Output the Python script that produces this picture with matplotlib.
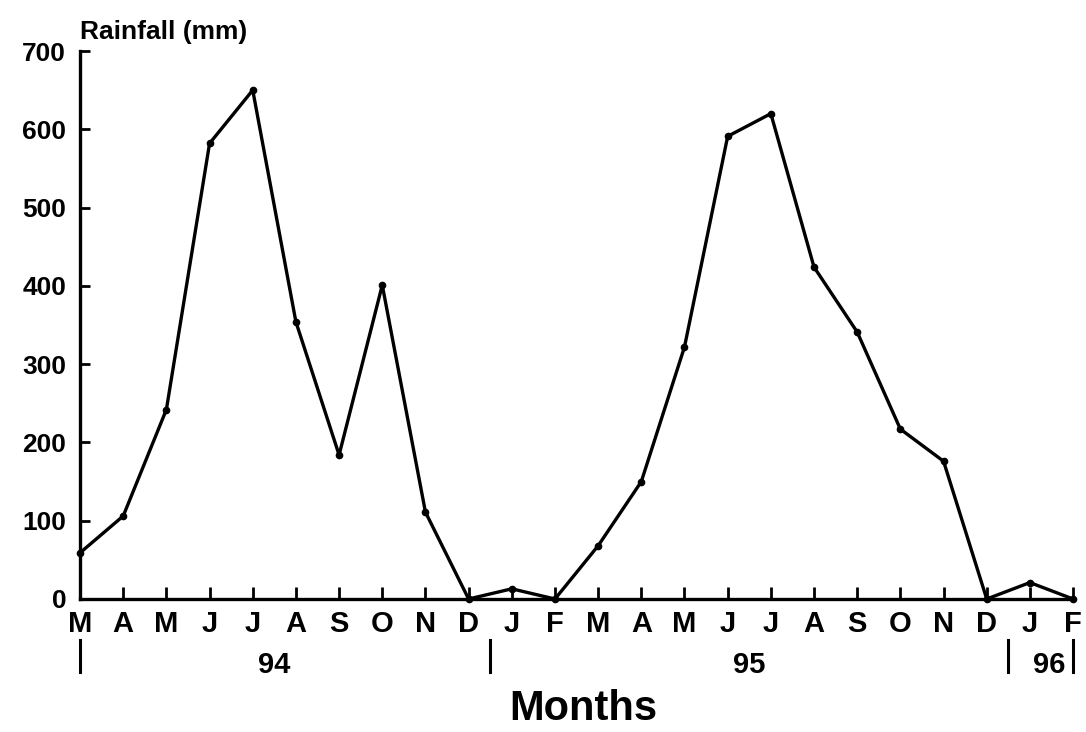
import matplotlib
matplotlib.use('Agg')
import matplotlib.pyplot as plt
import numpy as np

plt.rcParams['font.family'] = ['Liberation Sans', 'DejaVu Sans']
plt.rcParams['font.weight'] = 'bold'

# monthly rainfall, March 1994 - February 1996
months = ['M', 'A', 'M', 'J', 'J', 'A', 'S', 'O', 'N', 'D', 'J', 'F',
          'M', 'A', 'M', 'J', 'J', 'A', 'S', 'O', 'N', 'D', 'J', 'F']
rainfall = [59, 106, 242, 582, 650, 354, 184, 401, 111, 0, 13, 0,
            68, 150, 322, 591, 620, 424, 341, 217, 176, 0, 21, 0]
years = ['94', '95', '96']
year_pos = [4.5, 15.5, 22.45]
year_breaks = [0, 9.5, 21.5, 23]

fig = plt.figure(figsize=(10.86, 7.32), dpi=100)
ax = fig.add_axes([0.0737, 0.1817, 0.9144, 0.7486])

x = np.arange(len(months))
ax.plot(x, rainfall, color='black', lw=2.4, marker='o', ms=4.5, clip_on=False, zorder=3)

ax.set_xlim(0, 23)
ax.set_ylim(0, 700)
ax.set_xticks(x)
ax.set_xticklabels(months, fontsize=21, fontweight='bold')
ax.set_yticks(np.arange(0, 701, 100))
ax.set_yticklabels([str(v) for v in range(0, 701, 100)], fontsize=19, fontweight='bold')
ax.tick_params(axis='x', direction='in', length=9, width=2, pad=8)
ax.tick_params(axis='y', direction='in', length=7, width=2, pad=10)

for s in ['top', 'right']:
    ax.spines[s].set_visible(False)
for s in ['left', 'bottom']:
    ax.spines[s].set_linewidth(2.4)

trans = ax.get_xaxis_transform()
for b in year_breaks:
    ax.plot([b, b], [-0.075, -0.133], transform=trans, color='black', lw=2.2, clip_on=False)
for yr, p in zip(years, year_pos):
    ax.text(p, -0.12, yr, transform=trans, ha='center', va='center', fontsize=21, fontweight='bold')

ax.text(0.0, 1.012, 'Rainfall (mm)', transform=ax.transAxes, ha='left', va='bottom',
        fontsize=19, fontweight='bold')
fig.text(0.537, 0.004, 'Months', ha='center', va='bottom', fontsize=30, fontweight='bold')

fig.savefig('out.png', dpi=100)
